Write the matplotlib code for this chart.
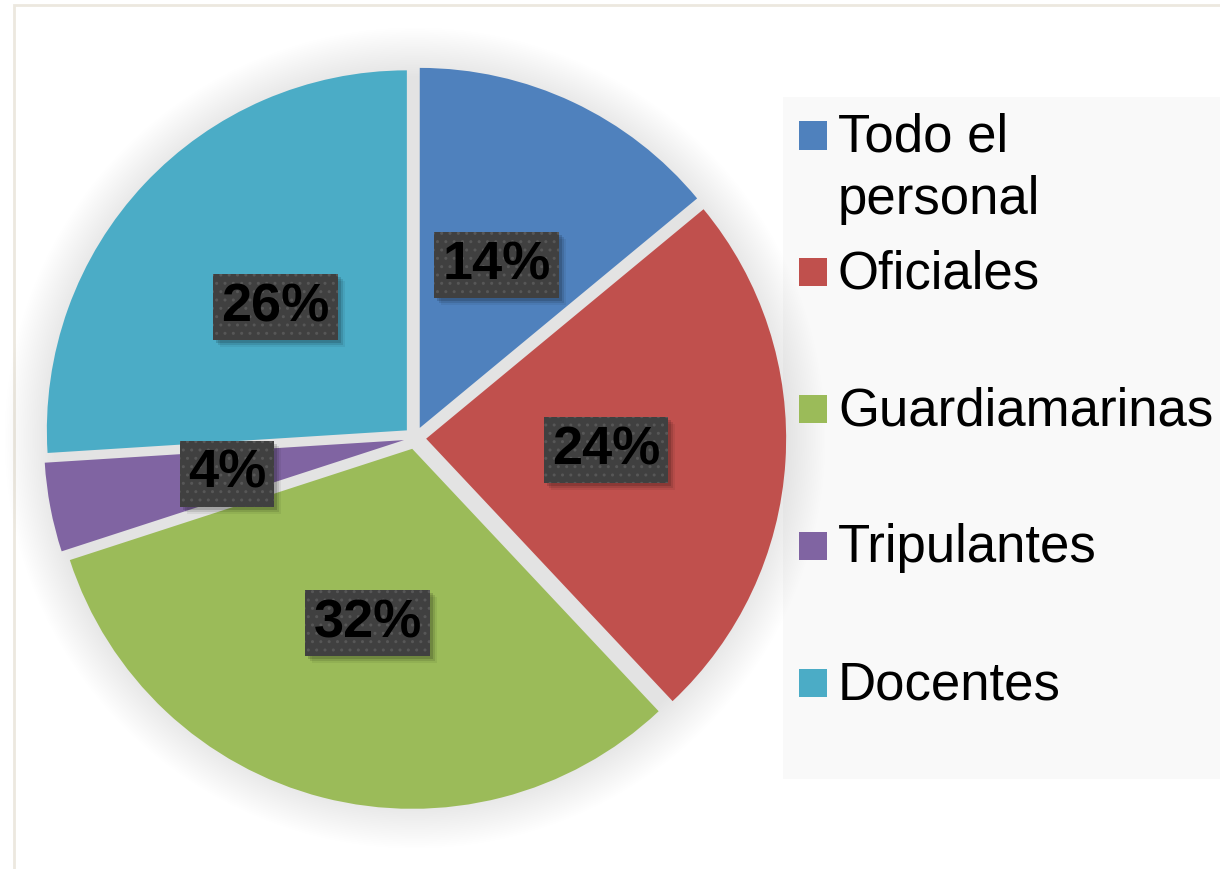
import matplotlib.pyplot as plt
from matplotlib.patches import Rectangle, Circle

plt.rcParams['font.family'] = ['Liberation Sans', 'DejaVu Sans']
plt.rcParams['hatch.linewidth'] = 1.0

categories = ['Todo el personal', 'Oficiales', 'Guardiamarinas', 'Tripulantes', 'Docentes']
legend_labels = ['Todo el\npersonal', 'Oficiales', 'Guardiamarinas', 'Tripulantes', 'Docentes']
shares = [14, 24, 32, 4, 26]
colors = ['#4f81bd', '#c0504d', '#9bbb59', '#8064a2', '#4bacc6']

W, H = 1220, 869
fig = plt.figure(figsize=(W / 100, H / 100), dpi=100)


def fx(x):
    return x / W


def fy(y):
    return 1 - y / H


# outer frame (only top and left edges visible)
fig.patches.append(Rectangle((fx(14), -0.05), 1.2, fy(5) + 0.05, transform=fig.transFigure,
                             fill=False, ec='#ece8df', lw=2, zorder=-2))
# legend background
fig.patches.append(Rectangle((fx(783), fy(779)), 1.05 - fx(783), fy(97) - fy(779),
                             transform=fig.transFigure, fc='#f9f9f9', ec='none', zorder=-1))

# pie axes, centre (415, 438) px, radius 360 px
cx, cy, R = 415, 438, 360
half = 1.2 * R
ax = fig.add_axes([fx(cx - half), fy(cy + half), 2 * half / W, 2 * half / H])
ax.patch.set_visible(False)

# soft shadow under the pie
n = 28
for i in range(n):
    r = 1.14 - 0.14 * i / n
    ax.add_patch(Circle((0, 0), r, fc='black', ec='none', alpha=0.0055, zorder=0))

wedges, texts, autotexts = ax.pie(
    shares, colors=colors, startangle=90, counterclock=False,
    explode=[0.031] * len(shares), pctdistance=0.5,
    autopct=lambda p: f'{p:.0f}%',
    wedgeprops=dict(lw=0),
    textprops=dict(fontsize=39, fontweight='bold', color='black'))

for t in autotexts:
    t.set_bbox(dict(boxstyle='square,pad=0.15', fc='#404040', ec='#575757', lw=0, hatch='..'))
    t.set_zorder(4)

ax.set_xlim(-1.2, 1.2)
ax.set_ylim(-1.2, 1.2)
ax.set_aspect('equal')
ax.axis('off')

# drop shadows behind the label boxes
fig.canvas.draw()
for t in autotexts:
    bb = t.get_bbox_patch().get_window_extent()
    for k, a in [(7, 0.06), (5, 0.1), (3, 0.14)]:
        ax.add_patch(Rectangle((bb.x0 + k, bb.y0 - k), bb.width, bb.height,
                               transform=None, fc='black', ec='none', alpha=a, zorder=3))

# legend
y0, step, line_h = 135.5, 136.75, 62
for i, (lab, col) in enumerate(zip(legend_labels, colors)):
    yc = y0 + i * step
    fig.patches.append(Rectangle((fx(799), fy(yc + 14)), 28 / W, 28 / H,
                                 transform=fig.transFigure, fc=col, ec='none'))
    for j, line in enumerate(lab.split('\n')):
        fig.text(fx(838), fy(yc + 16.5 + j * line_h), line, fontsize=38, color='black',
                 ha='left', va='baseline')

fig.savefig('out.png', dpi=100)
